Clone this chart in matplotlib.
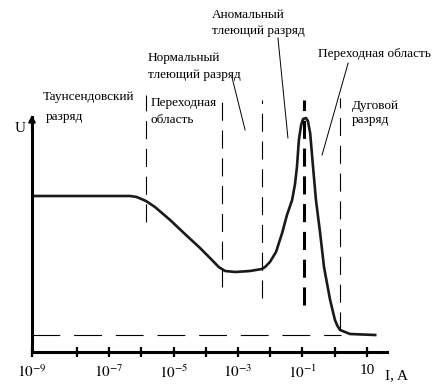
import matplotlib.pyplot as plt
import numpy as np

plt.rcParams['font.family'] = ['Liberation Serif', 'DejaVu Serif']
plt.rcParams['mathtext.fontset'] = 'stix'
plt.rcParams['lines.scale_dashes'] = False

# ВАХ газового разряда: lg I и U (условные единицы)
lg_i = [-9.40, -6.35, -6.15, -6.00, -5.86, -5.58, -5.11, -4.65, -4.18, -3.81, -3.60,
        -3.40, -3.09, -2.63, -2.26, -2.16, -2.01, -1.82, -1.63, -1.48, -1.32, -1.23,
        -1.17, -1.11, -1.04, -0.98, -0.89, -0.83, -0.76, -0.67, -0.58, -0.45, -0.33,
        -0.14, 0.01, 0.09, 0.17, 0.48, 1.26]
u = [15.6, 15.6, 15.5, 15.3, 15.1, 14.5, 13.2, 11.8, 10.4, 9.2, 8.5,
     8.1, 8.0, 8.1, 8.3, 8.5, 9.0, 10.0, 11.9, 13.7, 15.2, 16.8,
     18.5, 21.2, 22.7, 23.3, 23.4, 23.1, 21.9, 18.5, 15.2, 11.9, 8.5,
     5.2, 3.2, 2.6, 2.2, 1.8, 1.7]

# границы областей: lg I, верх, низ
bound_lg = [-5.86, -3.50, -2.26, -0.95, 0.17]
bound_top = [25.7, 25.2, 25.2, 25.2, 25.4]
bound_bot = [13.0, 6.5, 5.4, 4.7, 2.2]
u_arc = 1.7

tick_lg = [-9.4, -8, -7, -6, -5, -4, -3, -2, -1, 0, 1]
tick_text = ['$10^{-9}$', '', '$10^{-7}$', '', '$10^{-5}$', '', '$10^{-3}$', '',
             '$10^{-1}$', '', '10']

fig = plt.figure(figsize=(4.33, 3.9), dpi=100)
ax = fig.add_axes([32 / 433, 38 / 390, 401 / 433, 352 / 390])
ax.set_xscale('log')
ax.set_xlim(10 ** -9.4, 10 ** 3.056)
ax.set_ylim(0, 35.2)

I = 10.0 ** np.array(lg_i)
ax.plot(I, u, color='#1a1a1a', lw=1.9, solid_joinstyle='round')

for k in range(len(bound_lg)):
    lw = 2.2 if k == 3 else 0.8
    ax.plot([10 ** bound_lg[k]] * 2, [bound_bot[k], bound_top[k]], color='k',
            lw=lw, dashes=(13, 7))
ax.plot([10 ** -9.4, 10 ** 0.2], [u_arc, u_arc], color='k', lw=0.8, dashes=(20, 10))

# оси
for s in ['top', 'right']:
    ax.spines[s].set_visible(False)
ax.spines['left'].set_linewidth(2.2)
ax.spines['bottom'].set_linewidth(2.2)
ax.spines['left'].set_bounds(0, 23.5)
ax.spines['bottom'].set_bounds(10 ** -9.4, 10 ** 1.627)
ax.annotate('', xy=(10 ** -9.4, 24.0), xytext=(10 ** -9.4, 22.0),
            arrowprops=dict(arrowstyle='-|>', color='k', lw=1.5, mutation_scale=10))
ax.set_yticks([])
ax.set_xticks(10.0 ** np.array(tick_lg))
ax.set_xticklabels(tick_text, fontsize=11)
ax.minorticks_off()
ax.tick_params(axis='x', direction='inout', length=7, width=1.6, pad=5)

ax.text(10 ** -9.93, 22.4, 'U', fontsize=11, va='center')
ax.text(10 ** 1.57, -2.4, 'I, A', fontsize=11, va='center')

fs = 9.5
ax.text(10 ** -9.06, 25.5, 'Таунсендовский', fontsize=fs, va='center')
ax.text(10 ** -8.96, 23.5, 'разряд', fontsize=fs, va='center')
ax.text(10 ** -5.73, 24.9, 'Переходная', fontsize=fs, va='center')
ax.text(10 ** -5.73, 23.2, 'область', fontsize=fs, va='center')
ax.text(10 ** -5.80, 29.4, 'Нормальный', fontsize=fs, va='center')
ax.text(10 ** -5.80, 27.7, 'тлеющий разряд', fontsize=fs, va='center')
ax.text(10 ** -3.81, 33.7, 'Аномальный', fontsize=fs, va='center')
ax.text(10 ** -3.81, 32.1, 'тлеющий разряд', fontsize=fs, va='center')
ax.text(10 ** -0.52, 29.8, 'Переходная область', fontsize=fs, va='center')
ax.text(10 ** 0.54, 24.6, 'Дуговой', fontsize=fs, va='center')
ax.text(10 ** 0.54, 23.2, 'разряд', fontsize=fs, va='center')

ax.plot([10 ** -3.19, 10 ** -2.78], [27.5, 22.2], color='k', lw=0.7)
ax.plot([10 ** -1.76, 10 ** -1.45], [31.4, 21.4], color='k', lw=0.7)
ax.plot([10 ** 0.42, 10 ** -0.39], [28.9, 19.7], color='k', lw=0.7)

fig.savefig('out.png', dpi=100)
